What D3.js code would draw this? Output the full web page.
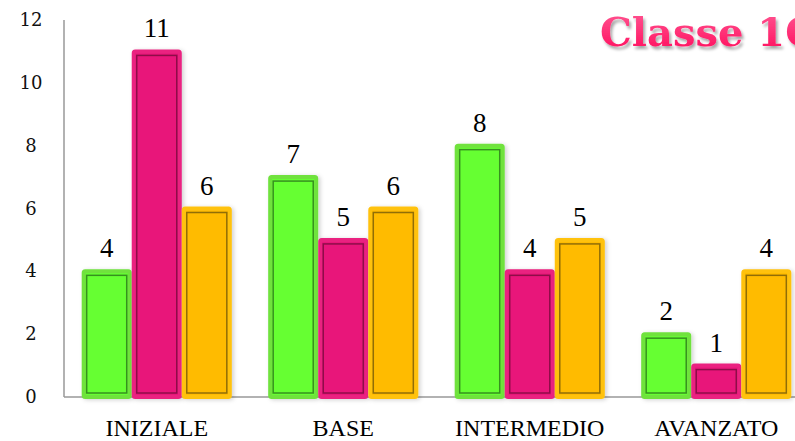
<!DOCTYPE html>
<html><head><meta charset="utf-8">
<script src="https://cdn.jsdelivr.net/npm/d3@7"></script>
<style>body{margin:0;background:#fff}svg{display:block}
.serif{font-family:"Liberation Serif","Times New Roman",Times,serif}
.dserif{font-family:"DejaVu Serif",serif}
</style>
</head><body>
<script>
const categories = ["INIZIALE","BASE","INTERMEDIO","AVANZATO"];
const seriesNames = ["s1","s2","s3"];
const green = [4,7,8,2];
const magenta = [11,5,4,1];
const orange = [6,6,5,4];
const yTicks = [0,2,4,6,8,10,12];
const title = "Classe 1C";

const W=795,H=441;
const svg=d3.select("body").append("svg").attr("width",W).attr("height",H);
const defs=svg.append("defs");
const f=defs.append("filter").attr("id","sh").attr("x","-20%").attr("y","-20%").attr("width","150%").attr("height","150%");
f.append("feDropShadow").attr("dx",2).attr("dy",1).attr("stdDeviation",2).attr("flood-color","#000").attr("flood-opacity",0.18);
const tf=defs.append("filter").attr("id","tsh").attr("x","-10%").attr("y","-20%").attr("width","130%").attr("height","160%");
tf.append("feDropShadow").attr("dx",2).attr("dy",3).attr("stdDeviation",1.5).attr("flood-color","#000").attr("flood-opacity",0.35);
const lg=defs.append("linearGradient").attr("id","tg").attr("x1",0).attr("y1",0).attr("x2",0).attr("y2",1);
lg.append("stop").attr("offset","0%").attr("stop-color","#ff5a95");
lg.append("stop").attr("offset","100%").attr("stop-color","#ff0a5a");

const x0=63.5;
const x=d3.scaleBand().domain(categories).range([x0,x0+4*186.5]).paddingInner(0.195).paddingOuter(0.0975);
const xs=d3.scaleBand().domain(seriesNames).range([0,x.bandwidth()]);
const y=d3.scaleLinear().domain([0,12]).range([397,20]);

const styles=[
 {fill:"#66ff33",border:"#6fe23d",dark:"#2f7d1c"},
 {fill:"#e8187a",border:"#ea2180",dark:"#7e0c40"},
 {fill:"#ffbb00",border:"#ffc20e",dark:"#7d6008"}
];
const data=[green,magenta,orange];

// axes
svg.append("line").attr("x1",64).attr("x2",64).attr("y1",y(12)).attr("y2",y(0)).attr("stroke","#999").attr("stroke-width",1.5);
svg.append("line").attr("x1",64).attr("x2",W).attr("y1",y(0)).attr("y2",y(0)).attr("stroke","#999").attr("stroke-width",1.5);

svg.selectAll("text.yt").data(yTicks).join("text").attr("class","yt dserif")
 .attr("x",31).attr("y",d=>y(d)+6).attr("text-anchor","middle")
 .style("font-size","18px").attr("fill","#111").text(d=>d);

seriesNames.forEach((s,si)=>{
 const g=svg.append("g");
 const st=styles[si];
 categories.forEach((c,ci)=>{
  const v=data[si][ci];
  const bx=x(c)+xs(s), bw=xs.bandwidth();
  const top=y(v), bot=y(0);
  g.append("rect").attr("x",bx+2).attr("y",top).attr("width",bw-4).attr("height",bot-top)
   .attr("fill",st.fill).attr("stroke",st.border).attr("stroke-width",4).attr("rx",1.5).attr("filter","url(#sh)");
  g.append("rect").attr("x",bx+5).attr("y",top+4).attr("width",bw-10).attr("height",Math.max(0,bot-top-8))
   .attr("fill","none").attr("stroke",st.dark).attr("stroke-width",1.5).attr("stroke-opacity",0.85);
  g.append("text").attr("class","serif").attr("x",bx+bw/2).attr("y",top-14).attr("text-anchor","middle")
   .style("font-size","27px").attr("fill","#000").text(v);
 });
});

svg.selectAll("text.xt").data(categories).join("text").attr("class","xt serif")
 .attr("x",d=>x(d)+x.bandwidth()/2).attr("y",436).attr("text-anchor","middle")
 .style("font-size","24px").attr("fill","#000").text(d=>d);

svg.append("text").attr("class","dserif").attr("x",600).attr("y",46).attr("fill","url(#tg)").attr("filter","url(#tsh)")
 .style("font-weight","bold").style("font-size","40px").text(title);
</script>
</body></html>
